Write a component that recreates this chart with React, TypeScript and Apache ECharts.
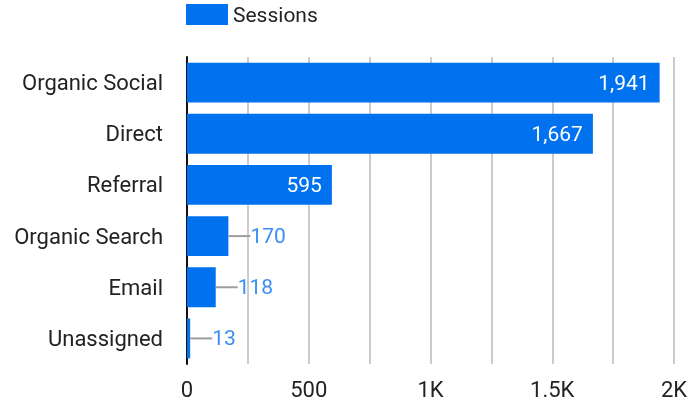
import React, { useEffect, useRef } from "react";
import * as echarts from "echarts";

const categories = ["Organic Social", "Direct", "Referral", "Organic Search", "Email", "Unassigned"];
const sessions = [1941, 1667, 595, 170, 118, 13];
const insideThreshold = 400;

const BLUE = "#0072f0";
const FONT = "Roboto";

export default function App() {
  const ref = useRef<HTMLDivElement>(null);
  useEffect(() => {
    if (!ref.current) return;
    const chart = echarts.init(ref.current, null, { renderer: "svg" });
    const data = sessions.map((v) => {
      const inside = v >= insideThreshold;
      return {
        value: v,
        label: inside
          ? {
              show: true,
              position: "insideRight",
              distance: 10,
              color: "#ffffff",
              fontSize: 21,
              fontFamily: FONT,
              formatter: (p: any) => p.value.toLocaleString("en-US"),
            }
          : {
              show: true,
              position: "right",
              distance: 0,
              formatter: (p: any) => "{line|}{val|" + p.value.toLocaleString("en-US") + "}",
              rich: {
                line: { width: 22, height: 2, backgroundColor: "#9e9e9e" },
                val: { color: "#3b8ef3", fontSize: 21, fontFamily: FONT, padding: [0, 0, 0, 0] },
              },
            },
      };
    });
    chart.setOption({
      animation: false,
      textStyle: { fontFamily: FONT },
      legend: {
        top: 4,
        left: 186,
        padding: 0,
        itemWidth: 42,
        itemHeight: 21,
        itemGap: 10,
        icon: "rect",
        textStyle: { fontSize: 21, color: "#222", fontFamily: FONT, padding: [0, 0, 0, 0] },
        data: ["Sessions"],
      },
      grid: { left: 187, right: 18, top: 57, bottom: 37, containLabel: false },
      xAxis: {
        type: "value",
        min: 0,
        max: 2000,
        interval: 250,
        axisLine: { show: false },
        axisTick: { show: false },
        splitLine: { show: true, lineStyle: { color: "#cccccc", width: 2 } },
        axisLabel: {
          fontSize: 22,
          color: "#222",
          fontFamily: FONT,
          margin: 14,
          formatter: (v: number) => {
            if (v % 500 !== 0) return "";
            if (v === 0) return "0";
            if (v >= 1000) return v / 1000 + "K";
            return String(v);
          },
        },
      },
      yAxis: {
        type: "category",
        inverse: true,
        data: categories,
        axisLine: { show: true, lineStyle: { color: "#111", width: 2 } },
        axisTick: { show: false },
        axisLabel: { fontSize: 22, color: "#222", fontFamily: FONT, margin: 24 },
      },
      series: [
        {
          name: "Sessions",
          type: "bar",
          data,
          barCategoryGap: "22%",
          itemStyle: { color: BLUE },
          z: 1,
        },
      ],
    });
    return () => chart.dispose();
  }, []);
  return (
    <div
      ref={ref}
      style={{ position: "fixed", left: 0, top: 0, width: 692, height: 401 }}
    />
  );
}
